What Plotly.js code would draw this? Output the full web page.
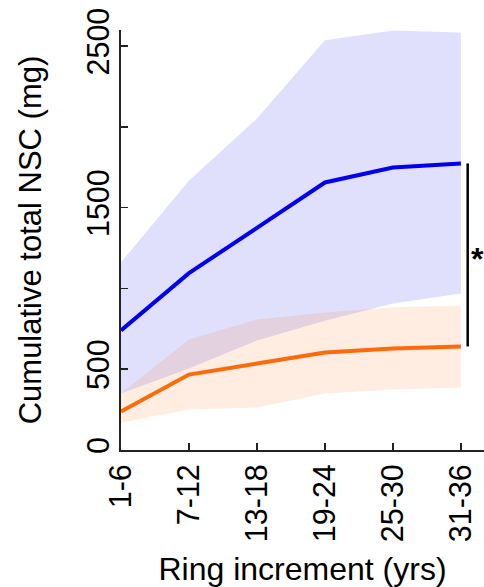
<!DOCTYPE html>
<html>
<head>
<meta charset="utf-8">
<script src="https://cdn.plot.ly/plotly-3.0.1.min.js"></script>
<style>html,body{margin:0;padding:0;background:#fff;}#chart{width:484px;height:587px;}</style>
</head>
<body>
<div id="chart"></div>
<script>
// Categories (ring increments)
var categories = ["1-6", "7-12", "13-18", "19-24", "25-30", "31-36"];

// Blue series: mean and band
var blueMean  = [740, 1095, 1375, 1656, 1749, 1774];
var blueUpper = [1161, 1669, 2052, 2536, 2597, 2585];
var blueLower = [350, 504, 678, 800, 907, 969];

// Orange series: mean and band
var orangeMean  = [238, 467, 535, 604, 628, 641];
var orangeUpper = [350, 684, 808, 851, 883, 894];
var orangeLower = [170, 251, 263, 350, 375, 387];

// Y tick labels
var yTickVals = [0, 500, 1000, 1500, 2000, 2500];
var yTickText = ["0", "500", "", "1500", "", "2500"];

var FONT = "Arial, 'Liberation Sans', sans-serif";
var BLUE = "rgb(0,0,238)";
var ORANGE = "rgb(255,106,10)";

var traces = [
  {x: categories, y: blueLower, mode: "lines", line: {width: 0}, hoverinfo: "skip", showlegend: false},
  {x: categories, y: blueUpper, mode: "lines", line: {width: 0}, fill: "tonexty",
   fillcolor: "rgba(0,0,230,0.12)", hoverinfo: "skip", showlegend: false},
  {x: categories, y: orangeLower, mode: "lines", line: {width: 0}, hoverinfo: "skip", showlegend: false},
  {x: categories, y: orangeUpper, mode: "lines", line: {width: 0}, fill: "tonexty",
   fillcolor: "rgba(255,110,20,0.12)", hoverinfo: "skip", showlegend: false},
  {x: categories, y: blueMean, mode: "lines", line: {color: BLUE, width: 4}, showlegend: false},
  {x: categories, y: orangeMean, mode: "lines", line: {color: ORANGE, width: 4}, showlegend: false}
];

var last = categories.length - 1;
var yLow = orangeMean[last], yHigh = blueMean[last];

var layout = {
  width: 484, height: 587,
  margin: {l: 121, r: 0, t: 30, b: 137},
  paper_bgcolor: "#fff", plot_bgcolor: "#fff",
  font: {family: FONT, color: "#000"},
  showlegend: false,
  xaxis: {
    type: "category",
    range: [0, 5.34],
    showgrid: false, zeroline: false,
    showline: true, linecolor: "#222", linewidth: 2,
    ticks: "inside", ticklen: 7, tickwidth: 1.5, tickcolor: "#222",
    tickangle: -90,
    tickfont: {size: 30.5, family: FONT, color: "#000"},
    title: {text: "Ring increment (yrs)", font: {size: 32, family: FONT, color: "#000"}, standoff: 20}
  },
  yaxis: {
    range: [0, 2600],
    showgrid: false, zeroline: false,
    showline: true, linecolor: "#222", linewidth: 2,
    ticks: "inside", ticklen: 7, tickwidth: 1.5, tickcolor: "#222",
    tickvals: yTickVals, ticktext: yTickText,
    tickangle: -90,
    ticklabelstandoff: -2,
    tickfont: {size: 30.5, family: FONT, color: "#000"},
    title: {text: "Cumulative total NSC (mg)", font: {size: 31, family: FONT, color: "#000"}, standoff: 30}
  },
  shapes: [
    {type: "line", xref: "x", yref: "y", x0: 5.1, x1: 5.1, y0: yLow, y1: yHigh,
     line: {color: "#000", width: 2.5}}
  ],
  annotations: [
    {xref: "x", yref: "y", x: 5.24, y: (yLow + yHigh) / 2, yshift: -4, text: "<b>*</b>", showarrow: false,
     font: {size: 32, family: FONT, color: "#000"}}
  ]
};

Plotly.newPlot("chart", traces, layout, {staticPlot: true, displayModeBar: false});
</script>
</body>
</html>
